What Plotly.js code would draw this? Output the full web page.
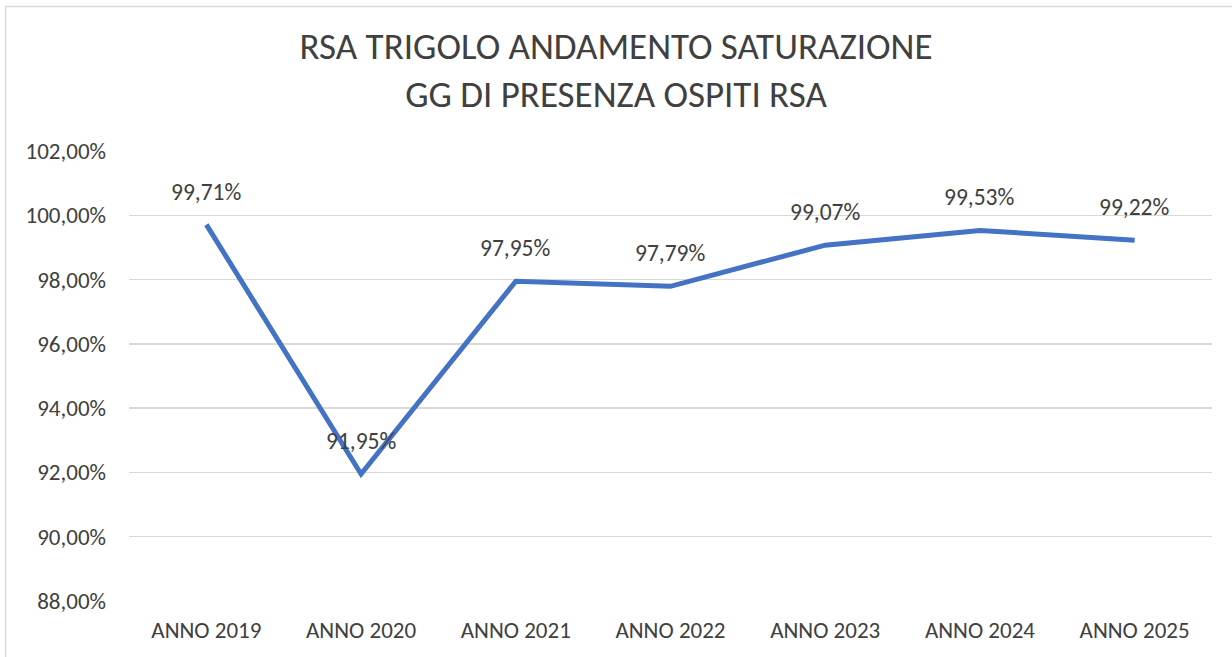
<!DOCTYPE html>
<html>
<head>
<meta charset="utf-8">
<script src="https://cdn.plot.ly/plotly-3.0.1.min.js"></script>
<style>html,body{margin:0;padding:0;background:#fff;}#chart{width:1232px;height:657px;}</style>
</head>
<body>
<div id="chart"></div>
<script>
const categories = ["ANNO 2019","ANNO 2020","ANNO 2021","ANNO 2022","ANNO 2023","ANNO 2024","ANNO 2025"];
const saturazione = [0.9971, 0.9195, 0.9795, 0.9779, 0.9907, 0.9953, 0.9922];
const tickValues = [0.88, 0.90, 0.92, 0.94, 0.96, 0.98, 1.00, 1.02];

function fmtPct(v){ return (v*100).toFixed(2).replace('.', ',') + '%'; }

const FONT = "Carlito, Lato, 'Open Sans', sans-serif";

const trace = {
  x: categories, y: saturazione, type: 'scatter', mode: 'lines',
  line: {color: '#4472C4', width: 5}, hoverinfo: 'skip'
};

const annotations = categories.map((c, i) => ({
  x: c, y: saturazione[i], xref: 'x', yref: 'y', text: fmtPct(saturazione[i]),
  showarrow: false, yshift: 33, font: {family: FONT, size: 23.5, color: '#404040'}
}));

const layout = {
  width: 1232, height: 657,
  margin: {l: 129, r: 20, t: 151, b: 56},
  paper_bgcolor: '#fff', plot_bgcolor: '#fff',
  showlegend: false,
  title: {
    text: 'RSA TRIGOLO ANDAMENTO SATURAZIONE<br>GG DI PRESENZA OSPITI RSA',
    x: 0.5, xref: 'container', y: 1 - 59/657, yref: 'container', yanchor: 'top',
    font: {family: FONT, size: 37, color: '#404040'}
  },
  xaxis: {
    type: 'category', range: [-0.5, 6.5], showgrid: false, zeroline: false,
    showline: false, ticks: '', ticklabelstandoff: 13,
    tickfont: {family: FONT, size: 23, color: '#404040'}
  },
  yaxis: {
    range: [0.88, 1.02], tickvals: tickValues, ticktext: tickValues.map(fmtPct),
    showgrid: true, gridcolor: '#D9D9D9', gridwidth: 1.5, zeroline: false,
    showline: false, ticks: '', ticklabelstandoff: 22,
    tickfont: {family: FONT, size: 23, color: '#404040'}
  },
  annotations: annotations,
  shapes: [{
    type: 'rect', xref: 'paper', yref: 'paper',
    x0: (5.5-129)/1083, x1: 1.2, y0: -0.3, y1: (601-6.5)/450,
    line: {color: '#D9D9D9', width: 1.5}, fillcolor: 'rgba(0,0,0,0)', layer: 'below'
  }]
};

Plotly.newPlot('chart', [trace], layout, {displayModeBar: false, staticPlot: true});
</script>
</body>
</html>
